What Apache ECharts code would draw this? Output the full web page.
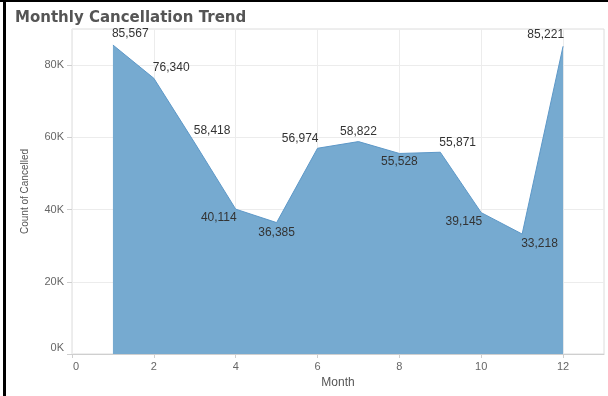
<!DOCTYPE html>
<html>
<head>
<meta charset="utf-8">
<script src="https://cdn.jsdelivr.net/npm/echarts@6/dist/echarts.min.js"></script>
<style>
html,body{margin:0;padding:0;background:#fff;}
#chart{width:608px;height:396px;}
</style>
</head>
<body>
<div id="chart"></div>
<script>
const months = [1, 2, 3, 4, 5, 6, 7, 8, 9, 10, 11, 12];
const cancelled = [85567, 76340, 58418, 40114, 36385, 56974, 58822, 55528, 55871, 39145, 33218, 85221];
const xTicks = [0, 2, 4, 6, 8, 10, 12];
const yTicks = [0, 20000, 40000, 60000, 80000];

// label placement per point: [align, dy]
const labelPlace = [
  ['left', -11], ['left', -11], ['left', -12], ['right', 9], ['center', 10], ['right', -10],
  ['center', -10], ['center', 8], ['left', -10], ['right', 9], ['left', 10], ['right', -12]
];

const fmt = v => v.toLocaleString('en-US');

const seriesData = months.map((m, i) => ({
  value: [m, cancelled[i]],
  label: {
    align: labelPlace[i][0],
    offset: [labelPlace[i][0] === 'right' ? 1 : (labelPlace[i][0] === 'left' ? -1 : 0), labelPlace[i][1]]
  }
}));

const chart = echarts.init(document.getElementById('chart'), null, {renderer: 'canvas'});
chart.setOption({
  animation: false,
  backgroundColor: '#fff',
  title: {
    text: 'Monthly Cancellation Trend',
    left: 10,
    top: 6,
    textStyle: {fontFamily: 'DejaVu Sans', fontWeight: 'bold', fontSize: 15, color: '#555'}
  },
  grid: {
    left: 72, right: 4, top: 29, bottom: 42,
    show: true, borderColor: '#dcdcdc', borderWidth: 1, containLabel: false
  },
  xAxis: {
    type: 'value',
    min: 0, max: 13,
    name: 'Month',
    nameLocation: 'middle',
    nameGap: 21,
    nameTextStyle: {fontFamily: 'Liberation Sans', fontSize: 12, color: '#555'},
    axisLine: {show: true, lineStyle: {color: '#cfcfcf'}},
    axisTick: {show: true, length: 4, lineStyle: {color: '#cfcfcf'}, customValues: xTicks},
    axisLabel: {
      customValues: xTicks,
      margin: 7,
      fontFamily: 'Liberation Sans', fontSize: 11, color: '#666',
      formatter: v => v === 0 ? '{z|0}' : String(v),
      rich: {z: {padding: [0, 0, 0, 8], fontFamily: 'Liberation Sans', fontSize: 11, color: '#666'}}
    },
    splitLine: {show: true, lineStyle: {color: '#ececec'}}
  },
  yAxis: {
    type: 'value',
    min: 0, max: 90000,
    name: 'Count of Cancelled',
    nameLocation: 'middle',
    nameGap: 42,
    nameRotate: 90,
    nameTextStyle: {fontFamily: 'Liberation Sans', fontSize: 10, color: '#555'},
    axisLine: {show: false},
    axisTick: {show: true, length: 5, lineStyle: {color: '#cfcfcf'}, customValues: yTicks},
    axisLabel: {
      customValues: yTicks,
      margin: 8,
      fontFamily: 'Liberation Sans', fontSize: 11, color: '#666',
      formatter: v => v === 0 ? '{z|0K}' : (v / 1000) + 'K',
      rich: {z: {padding: [0, 0, 12, 0], fontFamily: 'Liberation Sans', fontSize: 11, color: '#666'}}
    },
    splitLine: {show: true, lineStyle: {color: '#ececec'}}
  },
  series: [{
    type: 'line',
    data: seriesData,
    symbol: 'circle',
    symbolSize: 0,
    showSymbol: true,
    itemStyle: {color: '#5d98c8'},
    lineStyle: {color: '#5d98c8', width: 1},
    areaStyle: {color: '#76aad0', opacity: 1},
    label: {
      show: true,
      position: 'inside',
      formatter: p => fmt(p.value[1]),
      fontFamily: 'Liberation Sans',
      fontSize: 12,
      color: '#333'
    },
    z: 1
  }],
  graphic: [
    {type: 'rect', shape: {x: 0, y: 0, width: 608, height: 2}, style: {fill: '#000'}, silent: true},
    {type: 'rect', shape: {x: 3, y: 0, width: 3, height: 396}, style: {fill: '#000'}, silent: true}
  ]
});
</script>
</body>
</html>
